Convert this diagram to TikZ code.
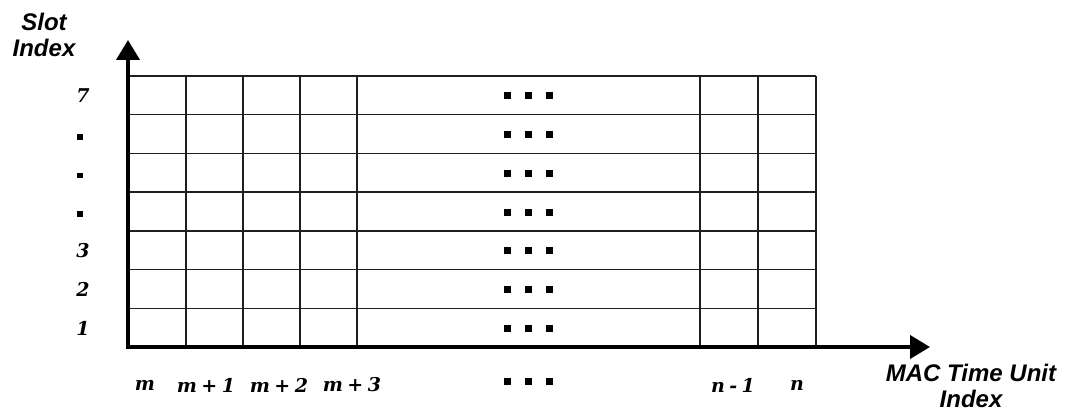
\documentclass[tikz,border=0pt]{standalone}
\usepackage{fontspec}
\setmainfont{DejaVu Serif}
\newfontfamily\titlefont{Liberation Sans}
\usetikzlibrary{arrows.meta}
\definecolor{gridGray}{HTML}{1E1E1E}
\newcommand{\sq}{\rule{7pt}{7pt}}
\newcommand{\threedots}{\sq\hspace{14pt}\sq\hspace{14pt}\sq}
\newcommand{\gap}{\hspace{4.5pt}}

\begin{document}
\begin{tikzpicture}[x=1pt,y=-1pt,
  axis/.style={line width=4pt,line cap=rect,-{Triangle[width=23pt,length=20pt]}},
  gridline/.style={line width=1.4pt,gridGray},
  numlabel/.style={font=\fontsize{19}{22}\selectfont\bfseries\itshape,inner sep=0pt},
  dotsbox/.style={inner sep=0pt},
  axistitle/.style={font=\titlefont\fontsize{24}{26}\selectfont\bfseries\itshape,
                    align=center,inner sep=0pt}]
\useasboundingbox (0,0) rectangle (1065,414);
% grid of slots
\foreach \y in {76,114.7,153.4,192.1,230.9,269.6,308.3}
  \draw[gridline] (128,\y) -- (816,\y);
\foreach \x in {186,243,300,357,700,758,816}
  \draw[gridline] (\x,76) -- (\x,347);
\foreach \y/\n in {96/r7,134.5/r6,173.3/r5,212/r4,250.8/r3,289.5/r2,328.2/r1}
  \node[dotsbox] (dots\n) at (528,\y) {\threedots};
% axes
\coordinate (origin) at (128,347);
\coordinate (ytip) at (128,40);
\coordinate (xtip) at (930,347);
\draw[axis] (origin) -- (ytip);
\draw[axis] (origin) -- (xtip);
\node[axistitle] (ytitle) at (44,35) {Slot\\Index};
\node[axistitle] (xtitle) at (971,386) {MAC Time Unit\\Index};
% slot index labels
\node[numlabel] (y7) at (83,96) {7};
\node[dotsbox] (ya) at (80,137) {\rule{5.5pt}{5.5pt}};
\node[dotsbox] (yb) at (80,175.5) {\rule{5.5pt}{5.5pt}};
\node[dotsbox] (yc) at (80,214) {\rule{5.5pt}{5.5pt}};
\node[numlabel] (y3) at (83,251) {3};
\node[numlabel] (y2) at (83,289.5) {2};
\node[numlabel] (y1) at (83,328) {1};
% time unit labels
\node[numlabel] (xm) at (145,385) {m};
\node[numlabel] (xm1) at (206,385) {m\gap+\gap1};
\node[numlabel] (xm2) at (279,385) {m\gap+\gap2};
\node[numlabel] (xm3) at (352,385) {m\gap+\gap3};
\node[dotsbox] (xdots) at (528,381) {\threedots};
\node[numlabel] (xn1) at (733,385) {n\gap-\gap1};
\node[numlabel] (xn) at (797,385) {n};
\end{tikzpicture}
\end{document}
